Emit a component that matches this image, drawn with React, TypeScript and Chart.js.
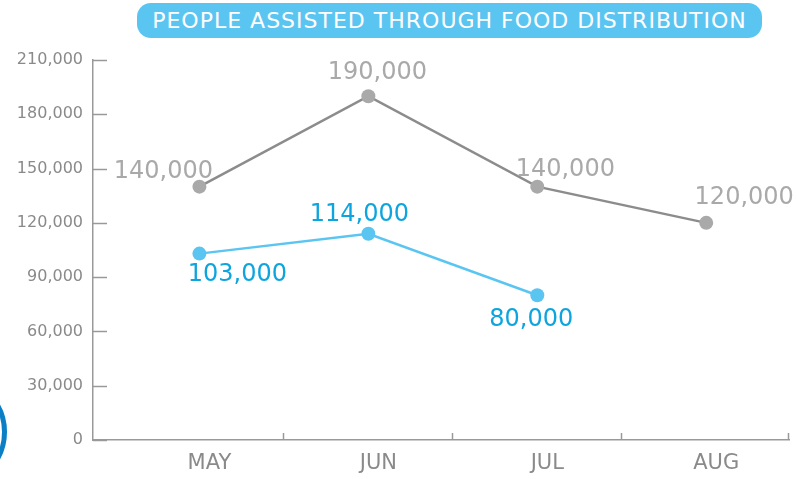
import React, { useEffect, useRef } from "react";
import { Chart, registerables } from "chart.js";

Chart.register(...registerables);

const months = ["MAY", "JUN", "JUL", "AUG"];
const grayValues = [140000, 190000, 140000, 120000];
const blueValues = [103000, 114000, 80000];
const yTicks = [0, 30000, 60000, 90000, 120000, 150000, 180000, 210000];
const titleText = "PEOPLE ASSISTED THROUGH FOOD DISTRIBUTION";

const FONT = "'DejaVu Sans', Verdana, sans-serif";
const fmt = (v: number) => v.toLocaleString("en-US");

// label offsets relative to each point (dx, dy for text centre)
const grayLabelOffsets = [
  [-36, -16],
  [9, -24],
  [28, -18],
  [38, -26],
];
const blueLabelOffsets = [
  [38, 20],
  [-9, -20],
  [-6, 24],
];

const innerTicks = {
  id: "innerTicks",
  beforeDatasetsDraw(chart: any) {
    const { ctx, chartArea, scales } = chart;
    ctx.save();
    ctx.strokeStyle = "#999999";
    ctx.lineWidth = 1.5;
    const y = scales.y;
    y.ticks.forEach((t: any) => {
      const py = Math.round(y.getPixelForValue(t.value)) + 0.5;
      ctx.beginPath();
      ctx.moveTo(chartArea.left, py);
      ctx.lineTo(chartArea.left + 14, py);
      ctx.stroke();
    });
    const x = scales.x;
    const xs: number[] = [];
    for (let i = 0; i < months.length - 1; i++) xs.push(x.getPixelForValue(i + 0.5));
    xs.push(chartArea.right);
    xs.forEach((px) => {
      const rx = Math.round(px) - 0.5;
      ctx.beginPath();
      ctx.moveTo(rx, chartArea.bottom);
      ctx.lineTo(rx, chartArea.bottom - 7);
      ctx.stroke();
    });
    ctx.restore();
  },
};

const valueLabels = {
  id: "valueLabels",
  afterDatasetsDraw(chart: any) {
    const { ctx } = chart;
    ctx.save();
    ctx.font = `24px ${FONT}`;
    ctx.textAlign = "center";
    ctx.textBaseline = "alphabetic";
    chart.data.datasets.forEach((ds: any, di: number) => {
      const meta = chart.getDatasetMeta(di);
      const offs = di === 0 ? grayLabelOffsets : blueLabelOffsets;
      ctx.fillStyle = di === 0 ? "#a9a9a9" : "#0ea5df";
      meta.data.forEach((pt: any, i: number) => {
        const v = ds.data[i].y;
        const [dx, dy] = offs[i];
        ctx.fillText(fmt(v), pt.x + dx, pt.y + dy + 7);
      });
    });
    ctx.restore();
  },
};

export default function App() {
  const ref = useRef<HTMLCanvasElement | null>(null);

  useEffect(() => {
    if (!ref.current) return;
    const chart = new Chart(ref.current, {
      type: "line",
      data: {
        datasets: [
          {
            data: grayValues.map((v, i) => ({ x: i, y: v })),
            borderColor: "#8c8c8c",
            backgroundColor: "#a9a9a9",
            pointBackgroundColor: "#a9a9a9",
            pointBorderWidth: 0,
            pointRadius: 7,
            pointHoverRadius: 7,
            borderWidth: 2.5,
            tension: 0,
          },
          {
            data: blueValues.map((v, i) => ({ x: i, y: v })),
            borderColor: "#5bc5f2",
            backgroundColor: "#5bc5f2",
            pointBackgroundColor: "#5bc5f2",
            pointBorderWidth: 0,
            pointRadius: 7,
            pointHoverRadius: 7,
            borderWidth: 2.5,
            tension: 0,
          },
        ],
      },
      options: {
        responsive: false,
        animation: false,
        layout: { padding: { top: 60, right: 9, left: 0, bottom: 0 } },
        plugins: {
          legend: { display: false },
          tooltip: { enabled: false },
          title: { display: false },
        },
        scales: {
          x: {
            type: "linear",
            min: -0.63,
            max: 3.49,
            grid: { display: false },
            border: { display: true, color: "#999999", width: 1.5 },
            afterBuildTicks: (scale: any) => {
              scale.ticks = months.map((_, i) => ({ value: i }));
            },
            afterFit: (scale: any) => {
              scale.height = 39;
            },
            ticks: {
              autoSkip: false,
              maxRotation: 0,
              padding: 3,
              labelOffset: 10,
              color: "#8a8a8a",
              font: { family: FONT, size: 21 },
              callback: (v: any) => months[v] ?? "",
            },
          },
          y: {
            min: 0,
            max: 210000,
            grid: { display: false },
            border: { display: true, color: "#999999", width: 1.5 },
            afterBuildTicks: (scale: any) => {
              scale.ticks = yTicks.map((v) => ({ value: v }));
            },
            afterFit: (scale: any) => {
              scale.width = 93;
            },
            ticks: {
              padding: 2,
              color: "#8a8a8a",
              font: { family: FONT, size: 16 },
              callback: (v: any) => fmt(Number(v)),
            },
          },
        },
      },
      plugins: [innerTicks, valueLabels],
    });
    return () => chart.destroy();
  }, []);

  return (
    <div
      style={{
        position: "absolute",
        left: 0,
        top: 0,
        width: 798,
        height: 479,
        overflow: "hidden",
        background: "#ffffff",
      }}
    >
      <canvas ref={ref} width={798} height={479} style={{ position: "absolute", left: 0, top: 0 }} />
      <div
        style={{
          position: "absolute",
          left: 137,
          top: 3,
          width: 625,
          height: 35,
          background: "#5bc5f2",
          borderRadius: 14,
          color: "#ffffff",
          fontFamily: FONT,
          fontSize: 22,
          letterSpacing: 1,
          display: "flex",
          alignItems: "center",
          justifyContent: "center",
          whiteSpace: "nowrap",
        }}
      >
        {titleText}
      </div>
      <div
        style={{
          position: "absolute",
          left: -105,
          top: 376,
          width: 112,
          height: 112,
          boxSizing: "border-box",
          border: "5px solid #0a7fc6",
          borderRadius: "50%",
        }}
      />
    </div>
  );
}
